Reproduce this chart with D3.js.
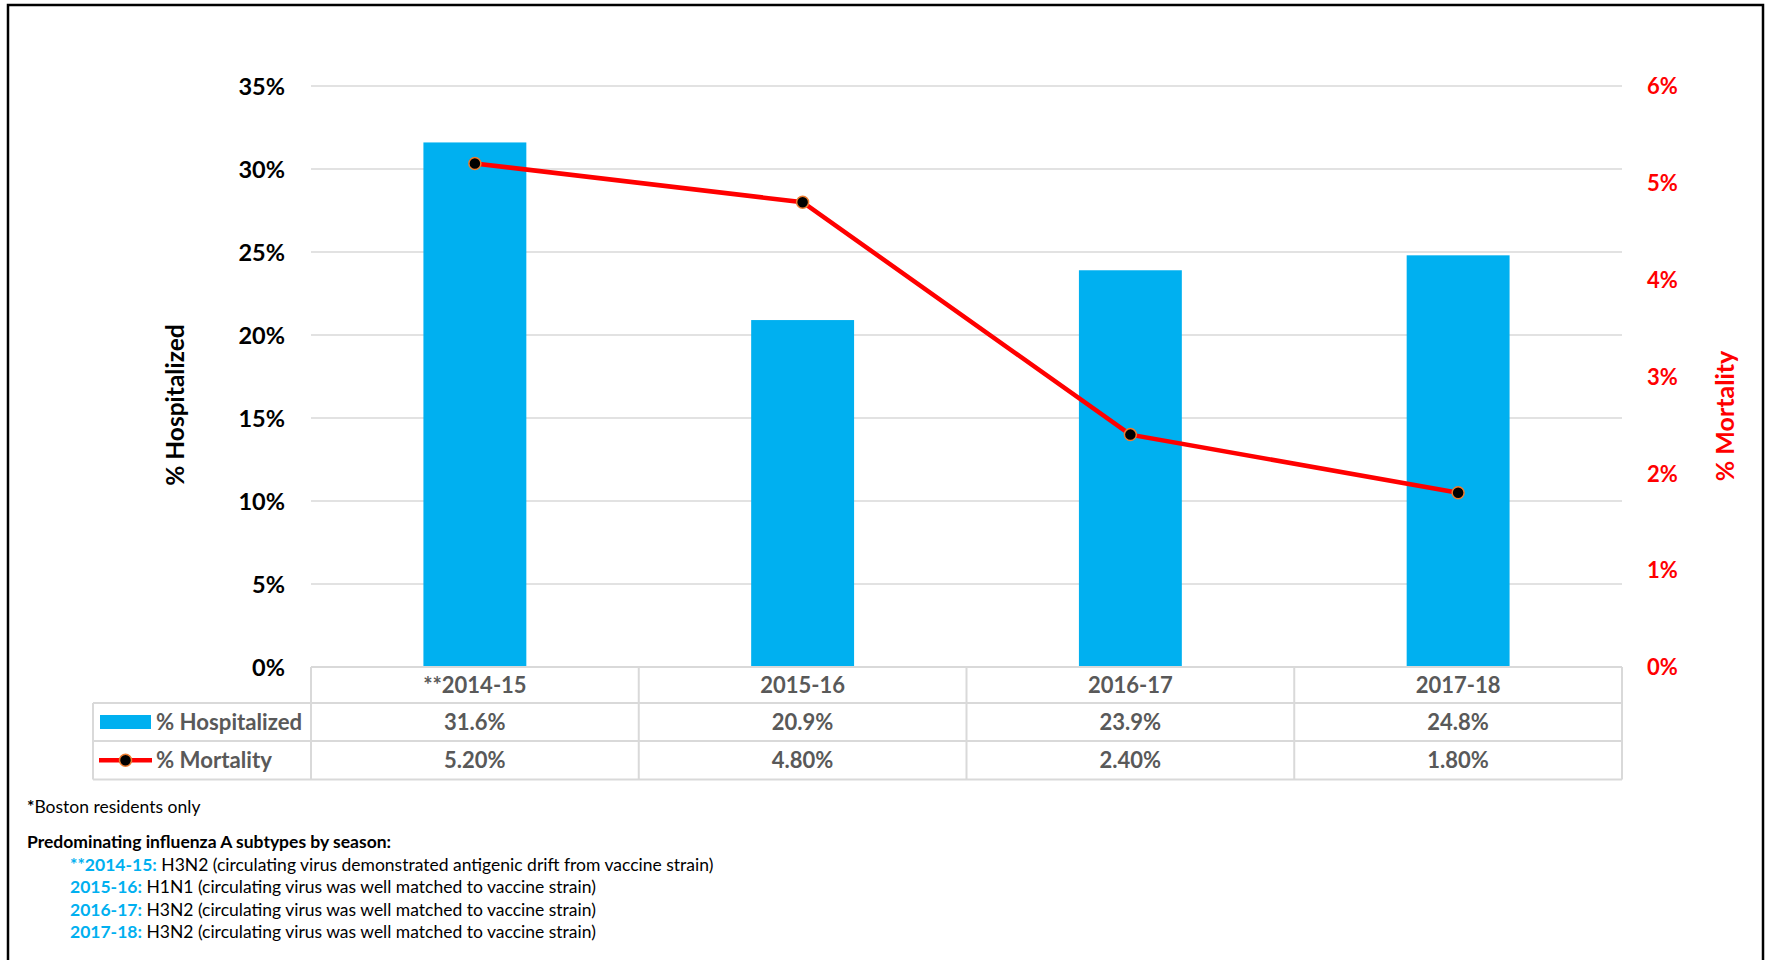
<!DOCTYPE html>
<html><head><meta charset="utf-8">
<script src="https://cdn.jsdelivr.net/npm/d3@7"></script>
<style>
html,body{margin:0;padding:0;background:#fff;}
svg text{font-family:Lato,"Open Sans",sans-serif;}
</style></head>
<body><svg id="chart" width="1772" height="960"></svg>
<script>
const categories = ["**2014-15","2015-16","2016-17","2017-18"];
const hospitalized = [0.316,0.209,0.239,0.248];
const mortality = [0.052,0.048,0.024,0.018];
const hospLabels = ["31.6%","20.9%","23.9%","24.8%"];
const mortLabels = ["5.20%","4.80%","2.40%","1.80%"];
const leftTicks = [0,0.05,0.10,0.15,0.20,0.25,0.30,0.35];
const rightTicks = [0,0.01,0.02,0.03,0.04,0.05,0.06];
const notes = [
  ["**2014-15:"," H3N2 (circulating virus demonstrated antigenic drift from vaccine strain)"],
  ["2015-16:"," H1N1 (circulating virus was well matched to vaccine strain)"],
  ["2016-17:"," H3N2 (circulating virus was well matched to vaccine strain)"],
  ["2017-18:"," H3N2 (circulating virus was well matched to vaccine strain)"]
];

const svg = d3.select("#chart");
const BLUE="#00B0F0", RED="#FF0000", GRAY="#595959", GRID="#D9D9D9";
const x0=311, x1=1622, yTop=86, yBot=667;

// outer border
svg.append("rect").attr("x",8).attr("y",5).attr("width",1755).attr("height",1000)
  .attr("fill","none").attr("stroke","#000").attr("stroke-width",2.5);

const x = d3.scaleBand().domain(categories).range([x0,x1]).padding(0);
const yL = d3.scaleLinear().domain([0,0.35]).range([yBot,yTop]);
const yR = d3.scaleLinear().domain([0,0.06]).range([yBot,yTop]);

// gridlines
svg.append("g").selectAll("line").data(leftTicks.filter(d=>d>0)).join("line")
  .attr("x1",x0).attr("x2",x1).attr("y1",d=>yL(d)).attr("y2",d=>yL(d))
  .attr("stroke",GRID).attr("stroke-width",1.5);

// left axis
const axL = svg.append("g").attr("transform",`translate(${x0-23},0)`)
  .call(d3.axisLeft(yL).tickValues(leftTicks).tickFormat(d3.format(".0%")).tickSize(0));
axL.select(".domain").remove();
axL.selectAll("text").attr("font-size",23.5).attr("font-weight",700).attr("fill","#000").attr("dy","0.35em");

// right axis
const axR = svg.append("g").attr("transform",`translate(${x1+22},0)`)
  .call(d3.axisRight(yR).tickValues(rightTicks).tickFormat(d3.format(".0%")).tickSize(0));
axR.select(".domain").remove();
axR.selectAll("text").attr("font-size",22).attr("font-weight",700).attr("fill",RED).attr("dy","0.35em");

// axis titles
svg.append("text").attr("transform","translate(184,405) rotate(-90)").attr("text-anchor","middle")
  .attr("font-size",24.5).attr("font-weight",700).attr("fill","#000").text("% Hospitalized");
svg.append("text").attr("transform","translate(1734,416) rotate(-90)").attr("text-anchor","middle")
  .attr("font-size",25).attr("font-weight",700).attr("fill",RED).text("% Mortality");

// bars
const bw = x.bandwidth()*0.314;
svg.append("g").selectAll("rect").data(hospitalized).join("rect")
  .attr("x",(d,i)=>x(categories[i])+x.bandwidth()/2-bw/2)
  .attr("width",bw).attr("y",d=>yL(d)).attr("height",d=>yBot-yL(d)).attr("fill",BLUE);

// line
const line = d3.line().x((d,i)=>x(categories[i])+x.bandwidth()/2).y(d=>yR(d));
svg.append("path").datum(mortality).attr("d",line).attr("fill","none").attr("stroke",RED).attr("stroke-width",4.5);
svg.append("g").selectAll("circle").data(mortality).join("circle")
  .attr("cx",(d,i)=>x(categories[i])+x.bandwidth()/2).attr("cy",d=>yR(d)).attr("r",6)
  .attr("fill","#000").attr("stroke","#ED7D31").attr("stroke-width",1.5);

// data table
const rows=[667,703,741,779.5];
const tL=93;
const tg=svg.append("g").attr("stroke",GRID).attr("stroke-width",2).attr("fill","none");
tg.append("line").attr("x1",x0).attr("x2",x1).attr("y1",rows[0]).attr("y2",rows[0]);
[1,2,3].forEach(r=>tg.append("line").attr("x1",tL).attr("x2",x1).attr("y1",rows[r]).attr("y2",rows[r]));
tg.append("line").attr("x1",tL).attr("x2",tL).attr("y1",rows[1]).attr("y2",rows[3]);
categories.forEach((c,i)=>tg.append("line").attr("x1",x(c)).attr("x2",x(c)).attr("y1",rows[0]).attr("y2",rows[3]));
tg.append("line").attr("x1",x1).attr("x2",x1).attr("y1",rows[0]).attr("y2",rows[3]);

const cx=(i)=>x(categories[i])+x.bandwidth()/2;
const tt=svg.append("g").attr("font-size",22).attr("font-weight",700).attr("fill",GRAY).attr("text-anchor","middle");
categories.forEach((c,i)=>{
  tt.append("text").attr("x",cx(i)).attr("y",(rows[0]+rows[1])/2).attr("dy","0.35em").text(c);
  tt.append("text").attr("x",cx(i)).attr("y",(rows[1]+rows[2])/2).attr("dy","0.35em").text(hospLabels[i]);
  tt.append("text").attr("x",cx(i)).attr("y",(rows[2]+rows[3])/2).attr("dy","0.35em").text(mortLabels[i]);
});
// legend keys
const r1=(rows[1]+rows[2])/2, r2=(rows[2]+rows[3])/2;
svg.append("rect").attr("x",100).attr("y",r1-7).attr("width",51).attr("height",14).attr("fill",BLUE);
svg.append("text").attr("x",156).attr("y",r1).attr("dy","0.35em").attr("font-size",22.2).attr("font-weight",700).attr("fill",GRAY).text("% Hospitalized");
svg.append("line").attr("x1",99).attr("x2",152).attr("y1",r2).attr("y2",r2).attr("stroke",RED).attr("stroke-width",4.5);
svg.append("circle").attr("cx",125.5).attr("cy",r2).attr("r",6).attr("fill","#000").attr("stroke","#ED7D31").attr("stroke-width",1.5);
svg.append("text").attr("x",156).attr("y",r2).attr("dy","0.35em").attr("font-size",22.2).attr("font-weight",700).attr("fill",GRAY).text("% Mortality");

// footnotes
const fn=svg.append("g").attr("font-size",17.5).attr("fill","#000");
const t1=fn.append("text").attr("x",27).attr("y",813);
t1.append("tspan").attr("font-weight",700).text("*");
t1.append("tspan").text("Boston residents only");
fn.append("text").attr("x",27).attr("y",848).attr("font-weight",700).text("Predominating influenza A subtypes by season:");
notes.forEach((n,i)=>{
  const t=fn.append("text").attr("x",70).attr("y",871+i*22.3);
  t.append("tspan").attr("fill",BLUE).attr("font-weight",700).text(n[0]);
  t.append("tspan").text(n[1]);
});
</script></body></html>
